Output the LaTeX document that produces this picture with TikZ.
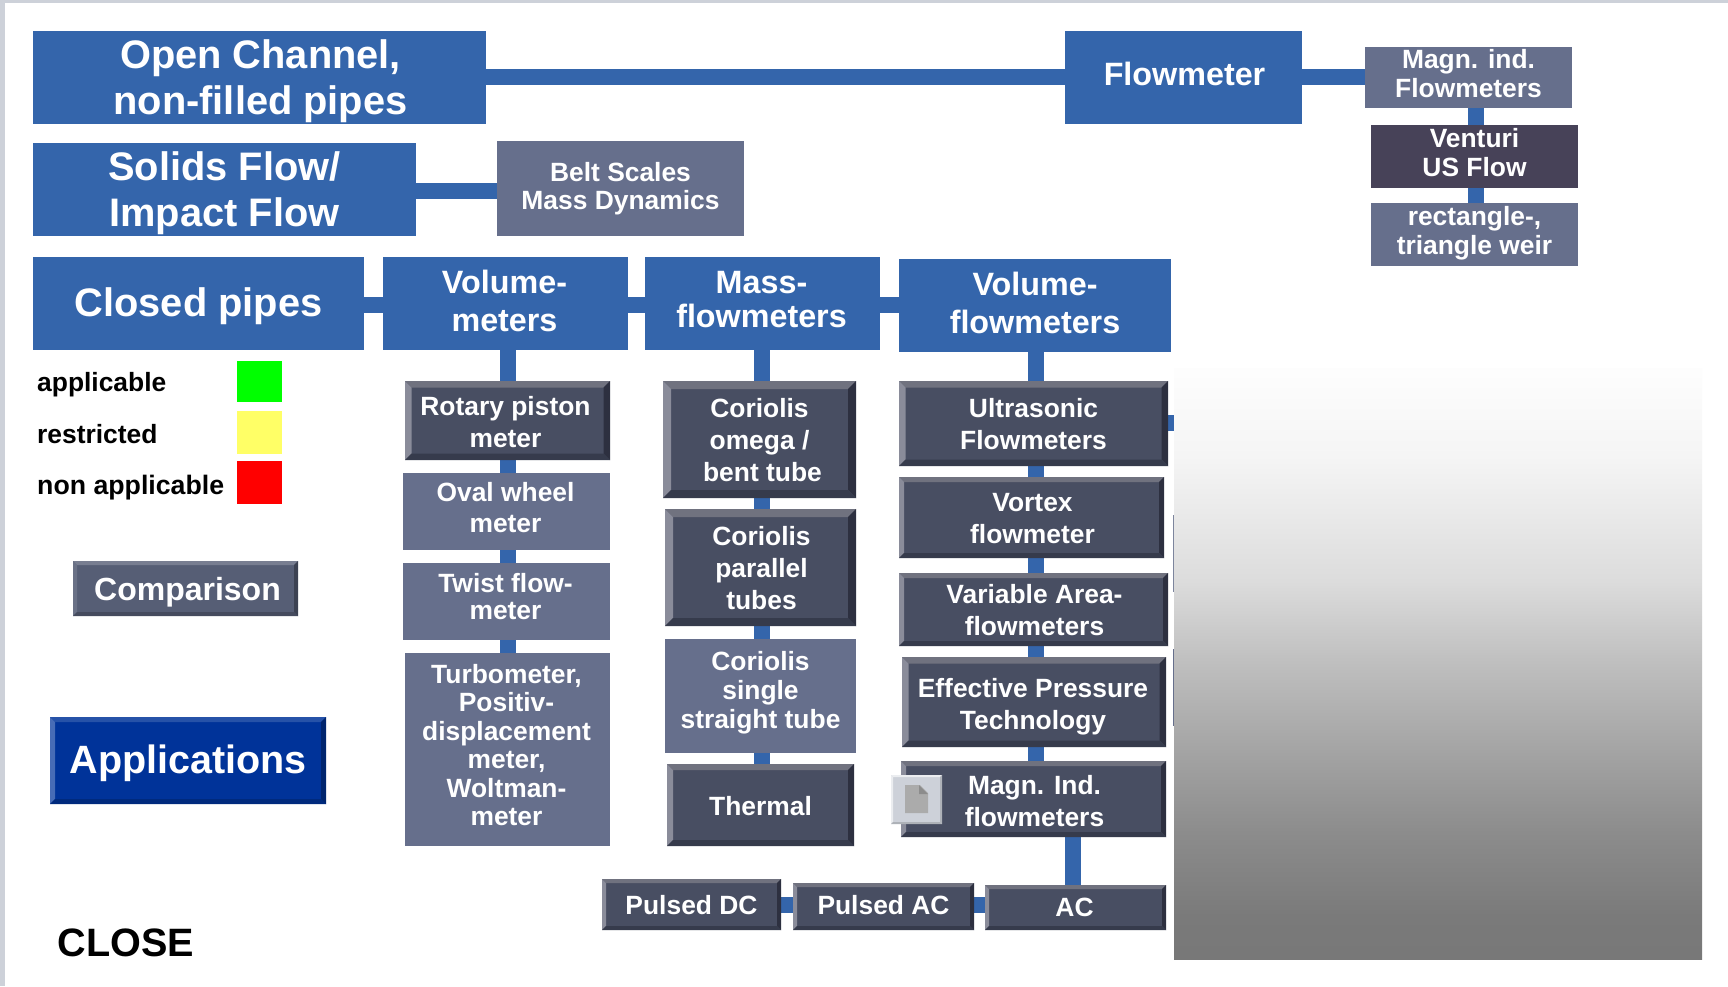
\documentclass[tikz,border=0pt]{standalone}
\usepackage{fontspec}
\setmainfont{Liberation Sans}
\usetikzlibrary{backgrounds}
\definecolor{flowblue}{HTML}{3465AB}
\definecolor{slate}{HTML}{666F8C}
\definecolor{darkface}{HTML}{484E62}
\definecolor{darktop}{HTML}{70727F}
\definecolor{darkleft}{HTML}{8A8C9A}
\definecolor{darkright}{HTML}{2D3040}
\definecolor{darkbot}{HTML}{363B4C}
\definecolor{strip}{HTML}{CDD1D9}
\definecolor{venturi}{HTML}{474258}
\definecolor{compareface}{HTML}{565E75}
\definecolor{appblue}{HTML}{003399}
\pgfdeclareverticalshading{panelgrad}{100bp}{%
  rgb(0bp)=(0.47,0.47,0.47);rgb(25bp)=(0.47,0.47,0.47);rgb(28.6bp)=(0.478,0.478,0.478);
  rgb(35.7bp)=(0.549,0.549,0.549);rgb(42.9bp)=(0.647,0.647,0.647);rgb(49.9bp)=(0.745,0.745,0.745);
  rgb(57bp)=(0.863,0.863,0.863);rgb(67.6bp)=(0.961,0.961,0.961);rgb(74.6bp)=(0.992,0.992,0.992);
  rgb(100bp)=(0.992,0.992,0.992)}
\newcommand\bx[9]{%
  \pgfmathsetmacro\bxw{#4-#2}\pgfmathsetmacro\bxh{#5-#3}%
  \node[#6,minimum width=\bxw pt,minimum height=\bxh pt,inner sep=0pt] (#1) at ({(#2+#4)/2},{(#3+#5)/2})
   {\makebox[0pt]{\hspace*{#7pt}\raisebox{\dimexpr #8pt-0.25em\relax}[0pt][0pt]{\begin{tabular}{@{}c@{}}#9\end{tabular}}}};}
\tikzset{
  x=1pt,y=-1pt,
  conn/.style={draw=flowblue,line width=16pt,line cap=butt},
  bevel/.style n args={5}{path picture={
    \coordinate (pnw) at (path picture bounding box.north west);
    \coordinate (pne) at (path picture bounding box.north east);
    \coordinate (psw) at (path picture bounding box.south west);
    \coordinate (pse) at (path picture bounding box.south east);
    \fill[#1] (pnw)--(pne)--([xshift=-#5pt,yshift=-#5pt]pne)--([xshift=#5pt,yshift=-#5pt]pnw)--cycle;
    \fill[#2] (pnw)--(psw)--([xshift=#5pt,yshift=#5pt]psw)--([xshift=#5pt,yshift=-#5pt]pnw)--cycle;
    \fill[#3] (pne)--(pse)--([xshift=-#5pt,yshift=#5pt]pse)--([xshift=-#5pt,yshift=-#5pt]pne)--cycle;
    \fill[#4] (psw)--(pse)--([xshift=-#5pt,yshift=#5pt]pse)--([xshift=#5pt,yshift=#5pt]psw)--cycle;
  }},
  bigbox/.style={fill=flowblue,text=white,font=\fontsize{39.8}{46}\selectfont\bfseries},
  midbox/.style={fill=flowblue,text=white,font=\fontsize{32.3}{38}\selectfont\bfseries},
  slatebox/.style={fill=slate,text=white,font=\fontsize{26.4}{#1}\selectfont\bfseries},
  slatebox/.default=28.5,
  darkbox/.style={fill=darkface,text=white,font=\fontsize{26.4}{32}\selectfont\bfseries,
     bevel={darktop}{darkleft}{darkright}{darkbot}{#1}},
  darkbox/.default=6.5,
  legendtext/.style={text=black,font=\fontsize{26.4}{30}\selectfont\bfseries,anchor=west,inner sep=0pt},
  swatch/.style={inner sep=0pt},
}
\begin{document}
\begin{tikzpicture}
\useasboundingbox (0,0) rectangle (1728,986);
\begin{scope}[on background layer]
  \fill[white] (0,0) rectangle (1728,986);
\end{scope}
\fill[strip] (0,0) rectangle (1728,3);
\fill[strip] (0,0) rectangle (4.5,986);
\node[shading=panelgrad,minimum width=528pt,minimum height=591pt,inner sep=0pt] (panel) at (1438,663.5) {};
\fill[slate!85!white] (1172.8,515) rectangle (1174,592);
\fill[slate] (1172.8,649) rectangle (1174,726);

\bx{open}{33}{31}{486}{124}{bigbox}{2}{-1.5}{Open Channel,\\non-filled pipes}
\bx{solid}{33}{143}{416}{236}{bigbox}{0}{-1.5}{Solids Flow/\\Impact Flow}
\bx{closed}{33}{257}{364}{350}{bigbox}{0}{0}{Closed pipes}
\bx{flow}{1065}{31}{1302}{124}{midbox}{2}{1}{Flowmeter}
\bx{vol}{383}{257}{628}{350}{midbox}{-2}{0}{Volume-\\meters}
\bx{mass}{645}{257}{880}{350}{midbox,font=\fontsize{32.3}{34}\selectfont\bfseries}{-2}{2}{Mass-\\flowmeters}
\bx{volf}{899}{259}{1171}{352}{midbox}{0}{0.5}{Volume-\\flowmeters}
\bx{belt}{497}{141}{744}{236}{slatebox}{0}{-1}{Belt Scales\\Mass Dynamics}
\bx{mind}{1365}{47}{1572}{108}{slatebox={29.5}}{0}{1}{Magn. ind.\\Flowmeters}
\bx{vent}{1371}{125}{1578}{188}{slatebox={29.5},fill=venturi}{0}{1}{Venturi\\US Flow}
\bx{rect}{1371}{203}{1578}{266}{slatebox={29.5}}{0}{1}{rectangle-,\\triangle weir}

\bx{rotary}{405}{381}{610}{460}{darkbox}{-4}{-4.4}{Rotary piston\\meter}
\bx{oval}{403}{473}{610}{550}{slatebox={31}}{-2}{1}{Oval wheel\\meter}
\bx{twist}{403}{563}{610}{640}{slatebox={27.5}}{-2}{1.5}{Twist flow-\\meter}
\bx{turbo}{405}{653}{610}{846}{slatebox}{-2}{1}{Turbometer,\\Positiv-\\displacement\\meter,\\Woltman-\\meter}

\bx{omega}{663}{381}{856}{498}{darkbox=8}{0}{-3.3}{Coriolis\\omega /\\\hspace*{6pt}bent tube}
\bx{parallel}{665}{509}{856}{626}{darkbox=8}{2}{-3.3}{Coriolis\\parallel\\tubes}
\bx{single}{665}{639}{856}{753}{slatebox={29}}{0}{2.5}{Coriolis\\single\\straight tube}
\bx{thermal}{667}{764}{854}{846}{darkbox=6}{0}{-3.3}{Thermal}

\bx{ultra}{899}{381}{1168}{466}{darkbox}{0}{-3.3}{Ultrasonic\\Flowmeters}
\bx{vortex}{899}{477}{1164}{558}{darkbox=5}{2}{-3.3}{Vortex\\flowmeter}
\bx{vararea}{899}{573}{1168}{646}{darkbox=5}{2}{-3.3}{Variable Area-\\flowmeters}
\bx{effect}{902}{657}{1166}{747}{darkbox}{-2}{-4.4}{Effective Pressure\\Technology}
\bx{magn}{901}{761}{1166}{837}{darkbox=5}{2}{-4.4}{Magn. Ind.\\flowmeters}
\bx{ac}{985}{885}{1166}{930}{darkbox=4}{-2}{-2.2}{AC}
\bx{pac}{793}{883}{974}{930}{darkbox=4}{0}{-1}{Pulsed AC}
\bx{pdc}{602}{879}{781}{930}{darkbox=4}{0}{-3.3}{Pulsed DC}

\bx{compare}{73}{561}{298}{616}{fill=compareface,text=white,font=\fontsize{32}{38}\selectfont\bfseries,
   bevel={compareface!80!white}{compareface!88!white}{compareface!70!black}{compareface!80!black}{4}}{4}{-2.2}{Comparison}
\bx{apps}{50}{717}{326}{804}{fill=appblue,text=white,font=\fontsize{39.5}{46}\selectfont\bfseries,
   bevel={appblue!85!white}{appblue!72!white}{appblue!72!black}{appblue!82!black}{5}}{0}{0}{Applications}

\node[legendtext] (lapp) at (37,385) {applicable};
\node[legendtext] (lres) at (37,434) {restricted};
\node[legendtext,font=\fontsize{26.7}{30}\selectfont\bfseries] (lnon) at (37,488) {non applicable};
\node[swatch,fill={rgb,255:red,0;green,255;blue,0},minimum width=45pt,minimum height=41pt] (sapp) at (259.5,381.5) {};
\node[swatch,fill={rgb,255:red,255;green,255;blue,102},minimum width=45pt,minimum height=43pt] (sres) at (259.5,432.5) {};
\node[swatch,fill=red,minimum width=45pt,minimum height=43pt] (snon) at (259.5,482.5) {};
\node[legendtext,font=\fontsize{39.6}{46}\selectfont\bfseries] (closebtn) at (57.5,943) {CLOSE};

\node[swatch,fill=strip,minimum width=51pt,minimum height=49pt,
   bevel={strip!40!white}{strip!40!white}{strip!85!black}{strip!85!black}{2}] (icon) at (916.5,799.5) {};
\fill[black!33] (905,785)--(920,785)--(928,793)--(928,813)--(905,813)--cycle;
\fill[black!45] (919,785)--(928,794)--(919,794)--cycle;

\begin{scope}[on background layer]
  \draw[conn] (open.east |- 0,77) -- (flow.west |- 0,77);
  \draw[conn] (flow.east |- 0,77) -- (mind.west |- 0,77);
  \draw[conn] (solid.east |- 0,191) -- (belt.west |- 0,191);
  \draw[conn] (closed.east |- 0,305) -- (vol.west |- 0,305);
  \draw[conn] (vol.east |- 0,305) -- (mass.west |- 0,305);
  \draw[conn] (mass.east |- 0,305) -- (volf.west |- 0,305);
  \draw[conn] (mind.south -| 1476,0) -- (vent.north -| 1476,0);
  \draw[conn] (vent.south -| 1476,0) -- (rect.north -| 1476,0);
  \draw[conn] (vol.south -| 508,0) -- (rotary.north -| 508,0);
  \draw[conn] (rotary.south -| 508,0) -- (oval.north -| 508,0);
  \draw[conn] (oval.south -| 508,0) -- (twist.north -| 508,0);
  \draw[conn] (twist.south -| 508,0) -- (turbo.north -| 508,0);
  \draw[conn] (mass.south -| 762,0) -- (omega.north -| 762,0);
  \draw[conn] (omega.south -| 762,0) -- (parallel.north -| 762,0);
  \draw[conn] (parallel.south -| 762,0) -- (single.north -| 762,0);
  \draw[conn] (single.south -| 762,0) -- (thermal.north -| 762,0);
  \draw[conn] (volf.south -| 1036,0) -- (ultra.north -| 1036,0);
  \draw[conn] (ultra.south -| 1036,0) -- (vortex.north -| 1036,0);
  \draw[conn] (vortex.south -| 1036,0) -- (vararea.north -| 1036,0);
  \draw[conn] (vararea.south -| 1036,0) -- (effect.north -| 1036,0);
  \draw[conn] (effect.south -| 1036,0) -- (magn.north -| 1036,0);
  \draw[conn] (magn.south -| 1073,0) -- (ac.north -| 1073,0);
  \draw[conn] (ac.west |- 0,905) -- (pac.east |- 0,905);
  \draw[conn] (pac.west |- 0,905) -- (pdc.east |- 0,905);
  \draw[conn] (ultra.east |- 0,423) -- (panel.west |- 0,423);
\end{scope}
\end{tikzpicture}
\end{document}
